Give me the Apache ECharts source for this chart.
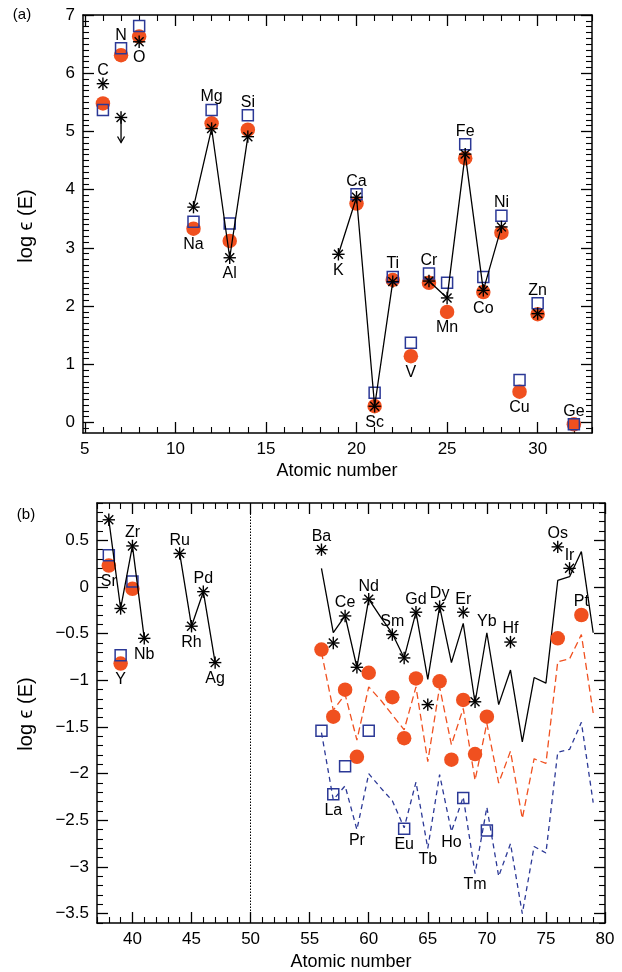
<!DOCTYPE html>
<html>
<head>
<meta charset="utf-8">
<script src="https://cdn.jsdelivr.net/npm/echarts@6/dist/echarts.min.js"></script>
<style>
  html, body { margin: 0; padding: 0; background: #fff; }
  #chart { width: 622px; height: 972px; }
</style>
</head>
<body>
<div id="chart"></div>
<script>
// ---------------- Panel (a): light elements ----------------
const aZ      = [6, 7, 8, 11, 12, 13, 14, 19, 20, 21, 22, 23, 24, 25, 26, 27, 28, 29, 30, 32];
const aNames  = ['C', 'N', 'O', 'Na', 'Mg', 'Al', 'Si', 'K', 'Ca', 'Sc', 'Ti', 'V', 'Cr', 'Mn', 'Fe', 'Co', 'Ni', 'Cu', 'Zn', 'Ge'];
const aStar   = [5.82, 5.24, 6.54, 3.70, 5.05, 2.83, 4.91, 2.89, 3.87, 0.28, 2.42, null, 2.43, 2.14, 4.61, 2.27, 3.36, null, 1.87, null];
const aSquare = [5.37, 6.43, 6.81, 3.45, 5.37, 3.42, 5.28, null, 3.92, 0.51, 2.50, 1.37, 2.56, 2.40, 4.78, 2.50, 3.55, 0.73, 2.05, -0.03];
const aCircle = [5.48, 6.31, 6.63, 3.33, 5.14, 3.12, 5.03, null, 3.76, 0.28, 2.45, 1.14, 2.40, 1.90, 4.54, 2.24, 3.26, 0.53, 1.86, -0.03];
const aUpperLimitZ = [7];          // star values that are upper limits
const aLinkedFromZ = 11;           // stars joined by the solid line start here
const aLabelSide   = ['top', 'top', 'bottom', 'bottom', 'top', 'bottom', 'top', 'bottom', 'top', 'bottom',
                      'top', 'bottom', 'top', 'bottom', 'top', 'bottom', 'top', 'bottom', 'top', 'top'];
const aLabelAnchor = ['star', 'square', 'star', 'circle', 'square', 'star', 'square', 'star', 'square', 'circle',
                      'square', 'circle', 'square', 'circle', 'square', 'circle', 'square', 'circle', 'square', 'square'];
const aXTicks = [5, 10, 15, 20, 25, 30];
const aYTicks = [0, 1, 2, 3, 4, 5, 6, 7];

// ---------------- Panel (b): heavy elements ----------------
// observed points, light side of the divider
const bZ      = [38, 39, 40, 41, 44, 45, 46, 47];
const bNames  = ['Sr', 'Y', 'Zr', 'Nb', 'Ru', 'Rh', 'Pd', 'Ag'];
const bStar   = [0.72, -0.23, 0.44, -0.55, 0.36, -0.42, -0.05, -0.81];
const bSquare = [0.34, -0.73, 0.06, null, null, null, null, null];
const bCircle = [0.23, -0.82, -0.02, null, null, null, null, null];
const bLabelSide   = ['bottom', 'bottom', 'top', 'bottom', 'top', 'bottom', 'top', 'bottom'];
const bLabelAnchor = ['circle', 'circle', 'star', 'star', 'star', 'star', 'star', 'star'];

// observed points and scaled patterns, heavy side of the divider
const cZ      = [56, 57, 58, 59, 60, 61, 62, 63, 64, 65, 66, 67, 68, 69, 70, 71, 72, 73, 74, 75, 76, 77, 78, 79];
const cNames  = ['Ba', 'La', 'Ce', 'Pr', 'Nd', 'Pm', 'Sm', 'Eu', 'Gd', 'Tb', 'Dy', 'Ho', 'Er', 'Tm', 'Yb', 'Lu',
                 'Hf', 'Ta', 'W', 'Re', 'Os', 'Ir', 'Pt', 'Au'];
const cStar   = [0.40, -0.60, -0.31, -0.86, -0.13, null, -0.51, -0.76, -0.27, -1.26, -0.21, null,
                 -0.27, -1.23, null, null, -0.59, null, null, null, 0.43, 0.20, null, null];
const cSquare = [-1.54, -2.22, -1.92, null, -1.54, null, null, -2.59, null, null, null, null,
                 -2.26, null, -2.61, null, null, null, null, null, null, null, null, null];
const cCircle = [-0.67, -1.39, -1.10, -1.82, -0.92, null, -1.18, -1.62, -0.98, null, -1.01, -1.85,
                 -1.21, -1.79, -1.39, null, null, null, null, null, -0.55, null, -0.30, null];
const cPatternBlack  = [0.20, -0.49, -0.31, -0.86, -0.13, -0.32, -0.50, -0.76, -0.27, -0.99, -0.21, -0.81,
                        -0.39, -1.24, -0.49, -1.26, -0.89, -1.66, -0.97, -1.03, 0.07, 0.11, 0.38, -0.49];
const cPatternOrange = [-0.70, -1.32, -1.15, -1.64, -1.07, -1.21, -1.37, -1.53, -1.07, -1.87, -1.07, -1.69,
                        -1.30, -2.07, -1.46, -2.10, -1.76, -2.48, -1.84, -1.89, -0.80, -0.77, -0.51, -1.35];
const cPatternBlue   = [-1.56, -2.28, -2.13, -2.60, -2.00, -2.15, -2.29, -2.58, -2.09, -2.80, -2.01, -2.62,
                        -2.25, -3.07, -2.36, -3.10, -2.75, -3.50, -2.78, -2.85, -1.77, -1.74, -1.45, -2.31];
// which elements are named, where the name sits, and what it sits against
const cLabelled    = ['Ba', 'La', 'Ce', 'Pr', 'Nd', 'Sm', 'Eu', 'Gd', 'Tb', 'Dy', 'Ho', 'Er', 'Tm', 'Yb', 'Hf', 'Os', 'Ir', 'Pt'];
const cLabelSide   = ['top', 'bottom', 'top', 'bottom', 'top', 'top', 'bottom', 'top', 'bottom', 'top', 'bottom', 'top',
                      'bottom', 'top', 'top', 'top', 'top', 'top'];
const cLabelAnchor = ['star', 'square', 'star', 'blue', 'star', 'star', 'square', 'star', 'blue', 'star', 'blue', 'star',
                      'blue', 'black', 'star', 'star', 'star', 'circle'];
const bDividerZ = 50;
const bXTicks = [40, 45, 50, 55, 60, 65, 70, 75, 80];
const bYTicks = [-3.5, -3, -2.5, -2, -1.5, -1, -0.5, 0, 0.5];

// ---------------- styling ----------------
const FONT   = '"Liberation Sans", Arial, Helvetica, sans-serif';
const ORANGE = '#F0501F';
const BLUE   = '#2B3896';
const GRID_A = { left: 83, top: 15, width: 509, height: 418 };
const GRID_B = { left: 97, top: 503, width: 508, height: 420 };
const A_RANGE = { x: [4.9, 33], y: [-0.18, 7] };
const B_RANGE = { x: [37, 80], y: [-3.6, 0.9] };

function steps(from, to, step, skip) {
  const out = [];
  const n = Math.round((to - from) / step);
  for (let i = 0; i <= n; i++) {
    const v = +(from + i * step).toFixed(4);
    if (!skip.some(s => Math.abs(s - v) < 1e-6)) out.push(v);
  }
  return out;
}

function signed(v) {
  return v < 0 ? '\u2212' + String(Math.abs(v)) : String(v);
}

// a closed frame: labelled major ticks on bottom/left, mirrored ticks on top/right
function frameAxes(dim, gridIndex, range, majors, minors, margin) {
  const sides = dim === 'x' ? ['bottom', 'top'] : ['left', 'right'];
  const axes = [];
  sides.forEach((pos, si) => {
    axes.push({
      type: 'value', gridIndex, position: pos, min: range[0], max: range[1],
      axisLine: { show: true, onZero: false, lineStyle: { color: '#000', width: 1.5 } },
      axisTick: { show: true, inside: true, length: 11, customValues: majors, lineStyle: { color: '#000', width: 1.3 } },
      axisLabel: { show: si === 0, customValues: majors, formatter: signed, margin,
                   fontSize: 17, color: '#000', fontFamily: FONT },
      splitLine: { show: false }
    });
    axes.push({
      type: 'value', gridIndex, position: pos, min: range[0], max: range[1],
      axisLine: { show: false, onZero: false },
      axisTick: { show: true, inside: true, length: 6, customValues: minors, lineStyle: { color: '#000', width: 1.1 } },
      axisLabel: { show: false },
      splitLine: { show: false }
    });
  });
  return axes;
}

const xAxes = [].concat(
  frameAxes('x', 0, A_RANGE.x, aXTicks, steps(5, 33, 1, aXTicks), 8),
  frameAxes('x', 1, B_RANGE.x, bXTicks, steps(37, 80, 1, bXTicks), 8)
);
const yAxes = [].concat(
  frameAxes('y', 0, A_RANGE.y, aYTicks, steps(-0.1, 7, 0.1, aYTicks), 8),
  frameAxes('y', 1, B_RANGE.y, bYTicks, steps(-3.6, 0.9, 0.1, bYTicks), 8)
);

function pairs(zs, vs) {
  const out = [];
  zs.forEach((z, i) => { if (vs[i] !== null && vs[i] !== undefined) out.push([z, vs[i]]); });
  return out;
}

function circleSeries(ax, pts) {
  return { type: 'scatter', xAxisIndex: ax, yAxisIndex: ax, z: 2, silent: true,
           symbol: 'circle', symbolSize: 14.5, itemStyle: { color: ORANGE, opacity: 1 }, data: pts };
}
function squareSeries(ax, pts) {
  return { type: 'scatter', xAxisIndex: ax, yAxisIndex: ax, z: 3, silent: true,
           symbol: 'rect', symbolSize: 11,
           itemStyle: { color: 'rgba(0,0,0,0)', borderColor: BLUE, borderWidth: 1.5, opacity: 1 }, data: pts };
}
function starSeries(ax, pts) {
  return {
    type: 'custom', xAxisIndex: ax, yAxisIndex: ax, z: 5, silent: true, data: pts,
    renderItem(params, api) {
      const c = api.coord([api.value(0), api.value(1)]);
      const r = 6.2, d = r * 0.72;
      const st = { stroke: '#000', lineWidth: 1.4 };
      return { type: 'group', children: [
        { type: 'line', shape: { x1: c[0] - r, y1: c[1], x2: c[0] + r, y2: c[1] }, style: st },
        { type: 'line', shape: { x1: c[0], y1: c[1] - r, x2: c[0], y2: c[1] + r }, style: st },
        { type: 'line', shape: { x1: c[0] - d, y1: c[1] - d, x2: c[0] + d, y2: c[1] + d }, style: st },
        { type: 'line', shape: { x1: c[0] - d, y1: c[1] + d, x2: c[0] + d, y2: c[1] - d }, style: st }
      ] };
    }
  };
}
function limitArrowSeries(ax, pts) {
  return {
    type: 'custom', xAxisIndex: ax, yAxisIndex: ax, z: 5, silent: true, data: pts,
    renderItem(params, api) {
      const c = api.coord([api.value(0), api.value(1)]);
      const len = 25, hw = 3.5, hl = 6;
      const st = { stroke: '#000', lineWidth: 1.3 };
      return { type: 'group', children: [
        { type: 'line', shape: { x1: c[0], y1: c[1], x2: c[0], y2: c[1] + len }, style: st },
        { type: 'polyline', shape: { points: [[c[0] - hw, c[1] + len - hl], [c[0], c[1] + len], [c[0] + hw, c[1] + len - hl]] },
          style: { stroke: '#000', lineWidth: 1.3, fill: null } }
      ] };
    }
  };
}
function lineSeries(ax, data, color, dash, z) {
  return { type: 'line', xAxisIndex: ax, yAxisIndex: ax, z: z || 4, silent: true, symbol: 'none',
           connectNulls: false, data,
           lineStyle: { color, width: 1.3, type: dash || 'solid' } };
}
// names of elements, set just above or below the mark they belong to
function labelSeries(ax, items) {
  return {
    type: 'custom', xAxisIndex: ax, yAxisIndex: ax, z: 6, silent: true,
    data: items.map(it => [it.z, it.v]),
    renderItem(params, api) {
      const it = items[params.dataIndex];
      const c = api.coord([api.value(0), api.value(1)]);
      const onMark = it.anchor === 'star' || it.anchor === 'square' || it.anchor === 'circle';
      const gap = it.side === 'top' ? (onMark ? 5 : 3) : (onMark ? 8 : 3);
      return {
        type: 'text', x: c[0], y: it.side === 'top' ? c[1] - gap : c[1] + gap,
        style: { text: it.name, fill: '#000', font: '16px ' + FONT, align: 'center',
                 verticalAlign: it.side === 'top' ? 'bottom' : 'top' }
      };
    }
  };
}

// label items for panel (a)
const aSource = { star: aStar, square: aSquare, circle: aCircle };
const aLabels = aNames.map((name, i) => ({ name, z: aZ[i], v: aSource[aLabelAnchor[i]][i], side: aLabelSide[i], anchor: aLabelAnchor[i] }));
// label items for panel (b)
const bSource = { star: bStar, square: bSquare, circle: bCircle };
const bLabels = bNames.map((name, i) => ({ name, z: bZ[i], v: bSource[bLabelAnchor[i]][i], side: bLabelSide[i], anchor: bLabelAnchor[i] }));
const cSource = { star: cStar, square: cSquare, circle: cCircle, black: cPatternBlack, orange: cPatternOrange, blue: cPatternBlue };
const cLabels = cLabelled.map((name, k) => {
  const i = cNames.indexOf(name);
  return { name, z: cZ[i], v: cSource[cLabelAnchor[k]][i], side: cLabelSide[k], anchor: cLabelAnchor[k] };
});

// solid line through neighbouring stars of panel (a)
const aStarLine = [];
aZ.forEach((z, i) => {
  if (z < aLinkedFromZ) return;
  if (aStarLine.length && aZ[i - 1] !== z - 1) aStarLine.push([z - 0.5, null]);
  aStarLine.push([z, aStar[i]]);
});
// solid line through neighbouring stars on the light side of panel (b)
const bStarLine = [];
bZ.forEach((z, i) => {
  if (bStarLine.length && bZ[i - 1] !== z - 1) bStarLine.push([z - 0.5, null]);
  bStarLine.push([z, bStar[i]]);
});

const aLimitPts = pairs(aZ, aStar).filter(p => aUpperLimitZ.includes(p[0]));
const aStarPts  = pairs(aZ, aStar);

const option = {
  animation: false,
  backgroundColor: '#fff',
  grid: [
    Object.assign({ containLabel: false }, GRID_A),
    Object.assign({ containLabel: false }, GRID_B)
  ],
  xAxis: xAxes,
  yAxis: yAxes,
  graphic: [
    { type: 'text', x: 22, y: 15, style: { text: '(a)', font: '15px ' + FONT, fill: '#000', align: 'center', verticalAlign: 'middle' } },
    { type: 'text', x: 26, y: 515, style: { text: '(b)', font: '15px ' + FONT, fill: '#000', align: 'center', verticalAlign: 'middle' } },
    { type: 'text', x: 26, y: 226, rotation: Math.PI / 2, style: { text: 'log \u03F5 (E)', font: '20px ' + FONT, fill: '#000', align: 'center', verticalAlign: 'middle' } },
    { type: 'text', x: 26, y: 714, rotation: Math.PI / 2, style: { text: 'log \u03F5 (E)', font: '20px ' + FONT, fill: '#000', align: 'center', verticalAlign: 'middle' } },
    { type: 'text', x: 337, y: 471, style: { text: 'Atomic number', font: '18px ' + FONT, fill: '#000', align: 'center', verticalAlign: 'middle' } },
    { type: 'text', x: 351, y: 962, style: { text: 'Atomic number', font: '18px ' + FONT, fill: '#000', align: 'center', verticalAlign: 'middle' } }
  ],
  series: [
    // panel (a)
    circleSeries(0, pairs(aZ, aCircle)),
    squareSeries(0, pairs(aZ, aSquare)),
    lineSeries(0, aStarLine, '#000', 'solid', 4),
    starSeries(0, aStarPts),
    limitArrowSeries(0, aLimitPts),
    labelSeries(0, aLabels),
    // panel (b), light side
    circleSeries(4, pairs(bZ, bCircle)),
    squareSeries(4, pairs(bZ, bSquare)),
    lineSeries(4, bStarLine, '#000', 'solid', 4),
    starSeries(4, pairs(bZ, bStar)),
    labelSeries(4, bLabels),
    // panel (b), heavy side
    Object.assign(lineSeries(4, cZ.map((z, i) => [z, cPatternBlue[i]]), BLUE, [5, 4], 1), {
      markLine: { silent: true, symbol: 'none', label: { show: false },
                  lineStyle: { color: '#000', width: 1, type: [1.5, 1.5] },
                  data: [{ xAxis: bDividerZ }] }
    }),
    lineSeries(4, cZ.map((z, i) => [z, cPatternOrange[i]]), ORANGE, [7, 4], 1),
    lineSeries(4, cZ.map((z, i) => [z, cPatternBlack[i]]), '#000', 'solid', 1),
    circleSeries(4, pairs(cZ, cCircle)),
    squareSeries(4, pairs(cZ, cSquare)),
    starSeries(4, pairs(cZ, cStar)),
    labelSeries(4, cLabels)
  ]
};

const chart = echarts.init(document.getElementById('chart'), null, { renderer: 'canvas' });
chart.setOption(option);
</script>
</body>
</html>
